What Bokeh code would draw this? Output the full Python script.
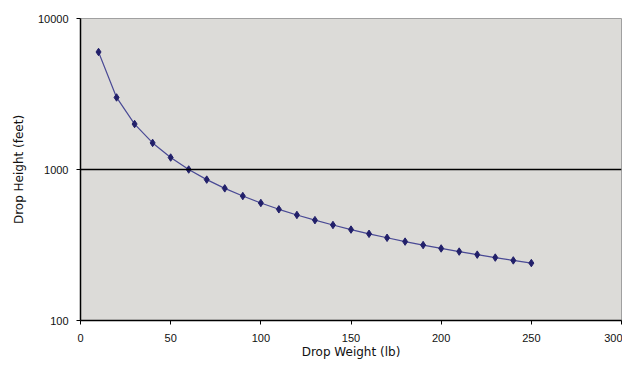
from bokeh.plotting import figure
from bokeh.models import FixedTicker, Range1d, Span, NumeralTickFormatter
from bokeh.embed import file_html
from bokeh.resources import INLINE

drop_weight = [10, 20, 30, 40, 50, 60, 70, 80, 90, 100, 110, 120, 130, 140, 150,
               160, 170, 180, 190, 200, 210, 220, 230, 240, 250]
drop_height = [6000, 3000, 2000, 1500, 1200, 1000, 857, 750, 667, 600, 545, 500, 462, 429, 400,
               375, 353, 333, 316, 300, 286, 273, 261, 250, 240]
x_ticks = [0, 50, 100, 150, 200, 250, 300]
y_ticks = [100, 1000, 10000]

p = figure(width=622, height=361, y_axis_type="log", output_backend="svg",
           toolbar_location=None, x_range=Range1d(0, 300), y_range=Range1d(100, 10000),
           min_border_left=80, min_border_right=1, min_border_top=18, min_border_bottom=40)
p.background_fill_color = "#dcdbd8"
p.border_fill_color = "white"
p.outline_line_color = "#a0a0a0"
p.outline_line_width = 1

p.xgrid.visible = False
p.ygrid.visible = False
p.add_layout(Span(location=1000, dimension="width", line_color="black", line_width=1.5))

p.line(drop_weight, drop_height, line_color="#4a4a95", line_width=1.2)
p.scatter(drop_weight, drop_height, marker="diamond", size=7.5, fill_color="#22206a",
          line_color="#22206a")

for ax in (p.xaxis[0], p.yaxis[0]):
    ax.axis_line_color = "black"
    ax.axis_line_width = 1.5
    ax.major_tick_line_color = "black"
    ax.major_tick_out = 4
    ax.major_tick_in = 0
    ax.minor_tick_line_color = None
    ax.major_label_text_font = "Liberation Sans"
    ax.major_label_text_font_size = "11px"
    ax.major_label_text_color = "#111111"
    ax.axis_label_text_font = "DejaVu Sans"
    ax.axis_label_text_font_size = "12px"
    ax.axis_label_text_font_style = "normal"
    ax.axis_label_text_color = "#111111"

p.xaxis.ticker = FixedTicker(ticks=x_ticks)
p.yaxis.ticker = FixedTicker(ticks=y_ticks)
p.yaxis.formatter = NumeralTickFormatter(format="0")
p.xaxis.axis_label = "Drop Weight (lb)"
p.yaxis.axis_label = "Drop Height (feet)"
p.xaxis.major_label_standoff = 9
p.yaxis.major_label_standoff = 8
p.xaxis.axis_label_standoff = 0
p.yaxis.axis_label_standoff = 9

open("out.html", "w").write(file_html(p, INLINE))
